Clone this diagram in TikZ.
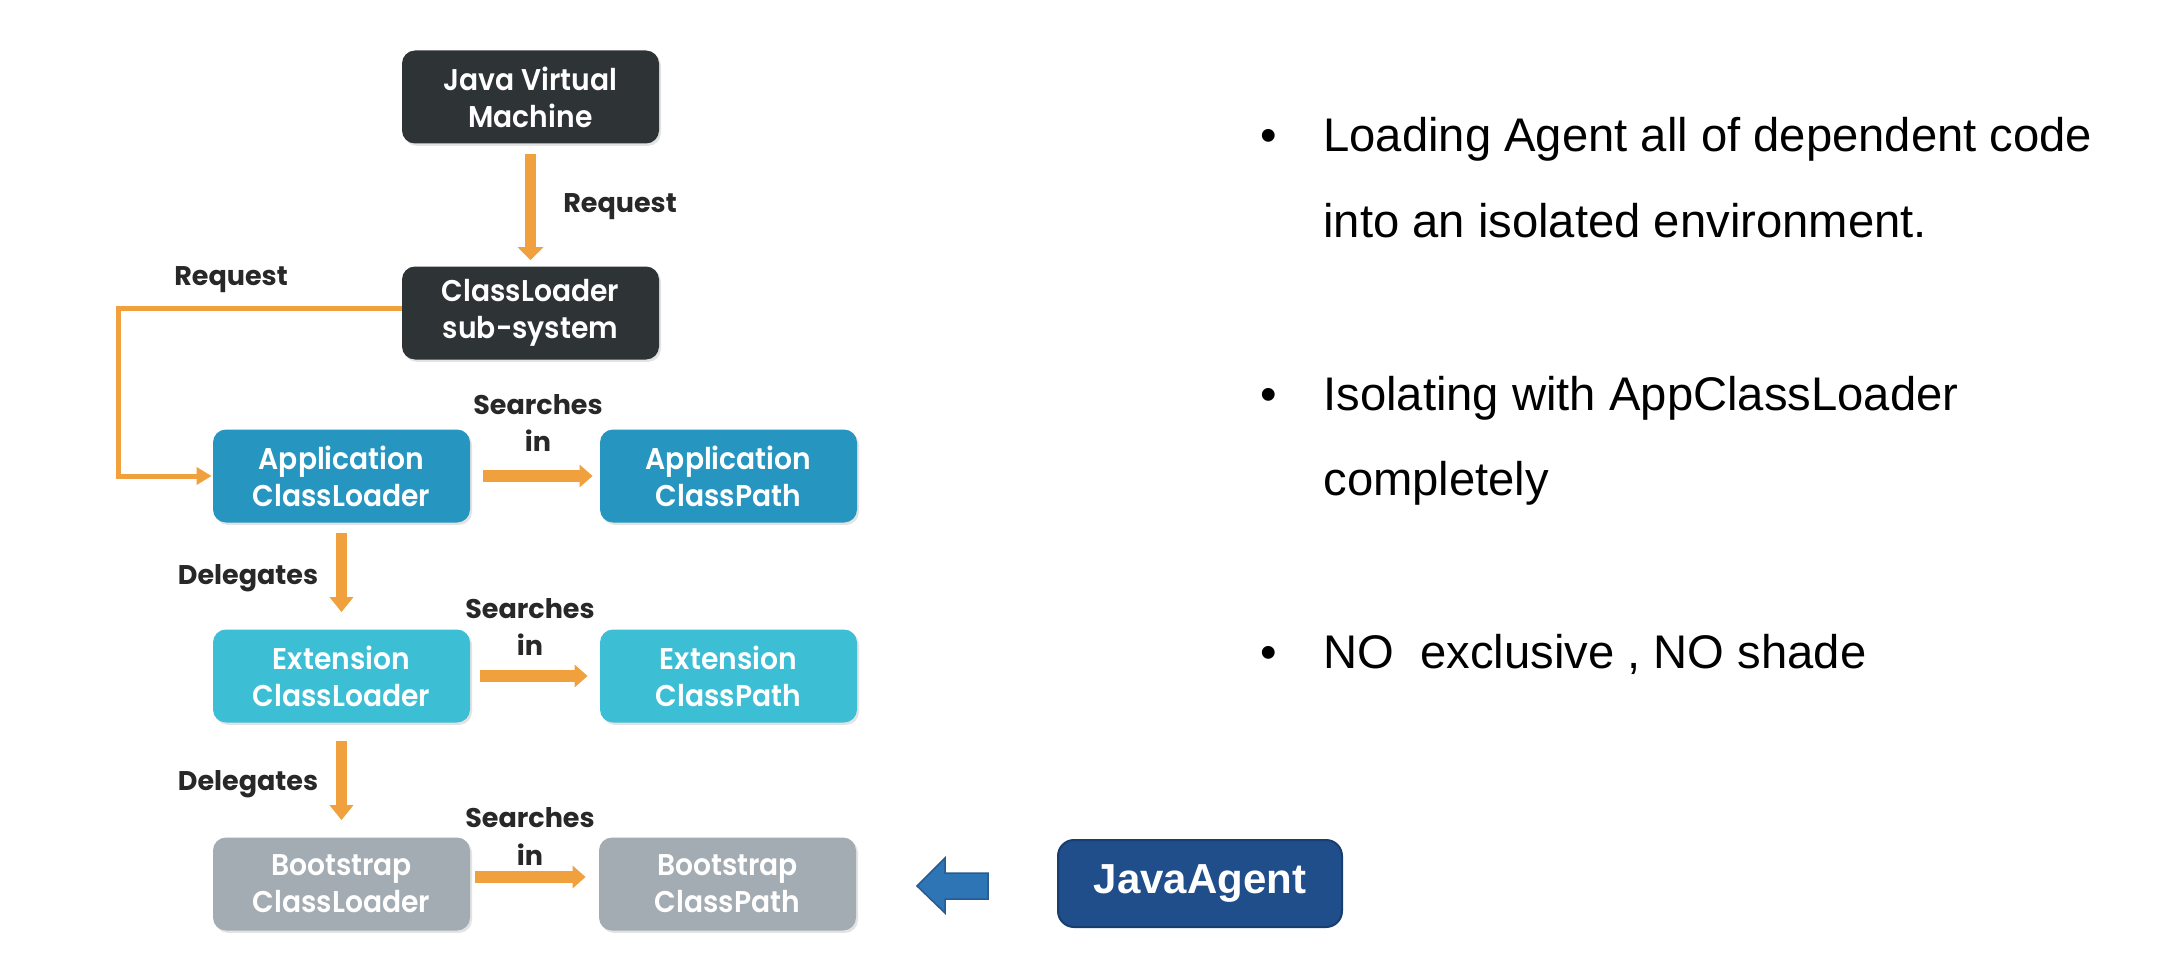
\documentclass[tikz,border=0pt]{standalone}
\usepackage{fontspec}
\usetikzlibrary{arrows.meta,shadows}
\setmainfont{Liberation Sans}
\newfontfamily\boxfont[FakeStretch=0.94,UprightFont=* SemiBold]{Poppins}
\newfontfamily\labelfont[UprightFont=* Bold]{Poppins}
\definecolor{darkbox}{RGB}{46,51,54}
\definecolor{appblue}{RGB}{38,150,192}
\definecolor{extcyan}{RGB}{60,190,212}
\definecolor{bootgray}{RGB}{162,172,178}
\definecolor{flow}{RGB}{240,160,60}
\definecolor{labelgray}{RGB}{40,40,40}
\definecolor{agentblue}{RGB}{31,78,138}
\definecolor{agentedge}{RGB}{24,62,112}
\definecolor{arrowblue}{RGB}{46,117,182}
\definecolor{arrowedge}{RGB}{40,90,145}
\begin{document}
\begin{tikzpicture}[x=0.5pt,y=-0.5pt,
  box/.style={rounded corners=6.5pt, minimum width=128.5pt, minimum height=46.5pt,
    align=center, text=white, inner sep=0pt,
    font=\boxfont\fontsize{15}{18.5}\selectfont,
    drop shadow={shadow xshift=1pt, shadow yshift=-1.2pt, opacity=0.22}},
  darkbox/.style={box, fill=darkbox},
  appbox/.style={box, fill=appblue},
  extbox/.style={box, fill=extcyan},
  bootbox/.style={box, fill=bootgray},
  lbl/.style={anchor=base, text=labelgray, inner sep=0pt,
    font=\labelfont\fontsize{13.5}{16}\selectfont},
  flowmain/.style={draw=flow, line width=5.5pt, -{Triangle[width=12.5pt,length=6.5pt]}},
  flowthin/.style={draw=flow, line width=2.5pt, -{Triangle[width=8.5pt,length=7.5pt]}},
  flowdeleg/.style={draw=flow, line width=5.5pt, -{Triangle[width=11.5pt,length=7.5pt]}},
  flowsearch/.style={draw=flow, line width=6pt, -{Triangle[width=11pt,length=6.5pt]}},
  bullettext/.style={anchor=base west, inner sep=0pt, text=black,
    font=\fontsize{23.6}{28}\selectfont},
  bulletdot/.style={anchor=base, inner sep=0pt, text=black,
    font=\fontsize{23.6}{28}\selectfont},
]
% page frame
\fill[white] (0,0) rectangle (2163,974);
\useasboundingbox (0,0) rectangle (2163,974);

% class loader hierarchy
\node[darkbox] (jvm) at (530.5,97) {Java Virtual\\Machine};
\node[darkbox] (cl) at (530.5,313) {ClassLoader\\sub-system};
\node[appbox] (appcl) at (341.5,476) {Application\\ClassLoader};
\node[appbox] (appcp) at (728.5,476) {Application\\ClassPath};
\node[extbox] (extcl) at (341.5,676) {Extension\\ClassLoader};
\node[extbox] (extcp) at (728.5,676) {Extension\\ClassPath};
\node[bootbox] (bootcl) at (341.5,884) {Bootstrap\\ClassLoader};
\node[bootbox] (bootcp) at (727.5,884) {Bootstrap\\ClassPath};

% connectors
\draw[flowmain, shorten <=5pt, shorten >=3pt] (jvm.south) -- (cl.north);
\coordinate (bend) at (118,476);
\draw[flowthin, shorten >=0.5pt] ([yshift=2.5pt]cl.west) -| (bend) -- (appcl.west);
\draw[flowdeleg, shorten <=5pt, shorten >=8.5pt] (appcl.south) -- (extcl.north);
\draw[flowdeleg, shorten <=9pt, shorten >=8.5pt] (extcl.south) -- (bootcl.north);
\draw[flowsearch, shorten <=6.5pt, shorten >=3.5pt] (appcl.east) -- (appcp.west);
\draw[flowsearch, shorten <=5pt, shorten >=6pt] (extcl.east) -- (extcp.west);
\draw[flowsearch, shorten <=2.5pt, shorten >=6.5pt]
  ([yshift=3.5pt]bootcl.east) -- ([yshift=3.5pt]bootcp.west);

% connector labels
\node[lbl] (reqa) at (620,213) {Request};
\node[lbl] (reqb) at (231,285) {Request};
\node[lbl] (sa1) at (538,414) {Searches};
\node[lbl] (sa2) at (538,451) {in};
\node[lbl] (se1) at (530,618) {Searches};
\node[lbl] (se2) at (530,655) {in};
\node[lbl] (sb1) at (530,827) {Searches};
\node[lbl] (sb2) at (530,865) {in};
\node[lbl] (dl1) at (248,584) {Delegates};
\node[lbl] (dl2) at (248,790) {Delegates};

% agent injection
\node[rounded corners=8pt, fill=agentblue, draw=agentedge, line width=1pt,
  minimum width=142pt, minimum height=43.5pt, inner sep=0pt, text=white,
  font=\bfseries\fontsize{21}{25}\selectfont] (agent) at (1200,883.5) {JavaAgent};
\filldraw[fill=arrowblue, draw=arrowedge, line width=0.75pt]
  (917,886) -- (945,858) -- (945,873) -- (988,873) -- (988,899)
  -- (945,899) -- (945,913) -- cycle;

% notes
\node[bulletdot] (d1) at (1269,152) {\textbullet};
\node[bullettext] (t1a) at (1323,152) {Loading Agent all of dependent code};
\node[bullettext] (t1b) at (1323,237) {into an isolated environment.};
\node[bulletdot] (d2) at (1269,410) {\textbullet};
\node[bullettext] (t2a) at (1323,410) {Isolating with AppClassLoader};
\node[bullettext] (t2b) at (1323,495) {completely};
\node[bulletdot] (d3) at (1269,668) {\textbullet};
\node[bullettext] (t3) at (1323,668) {NO\ \ exclusive , NO shade};
\end{tikzpicture}
\end{document}
